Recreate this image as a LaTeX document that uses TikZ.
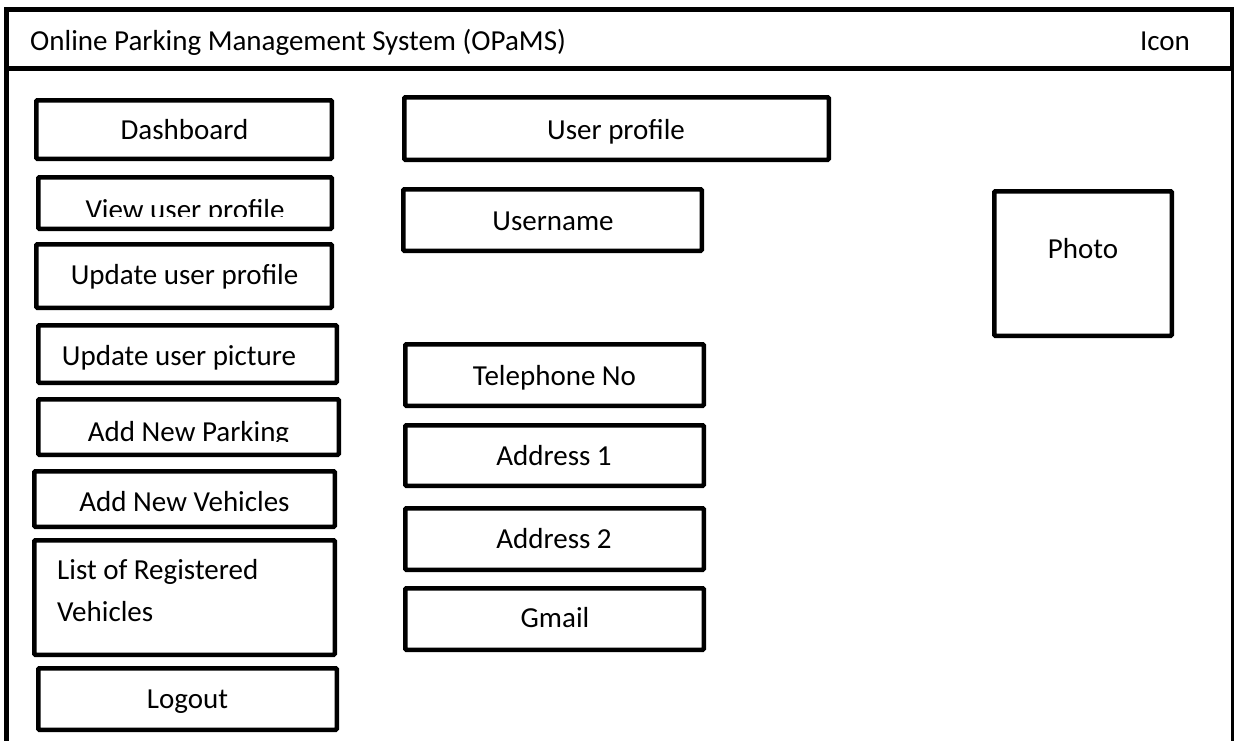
\documentclass[tikz,border=0pt]{standalone}
\usepackage{fontspec}
\setmainfont{Carlito}
\begin{document}
\begin{tikzpicture}[x=1pt,y=-1pt,
  frameline/.style={line width=4.5pt,line cap=rect},
  box/.style={draw,line width=4.5pt,rounded corners=1pt,rectangle,inner sep=0pt},
  lbl/.style={inner sep=0pt,anchor=base,font=\fontsize{29}{42}\selectfont},
]
\useasboundingbox (0,0) rectangle (1234,740);
\newcommand{\bx}[5]{\node[box,minimum width={#4-#2-4.5},minimum height={#5-#3-4.5}] (#1) at ({(#2+#4)/2},{(#3+#5)/2}) {};}
% outer frame
\coordinate (tl) at (6.3,9.7);
\coordinate (tr) at (1232,9.7);
\coordinate (bl) at (6.3,745);
\coordinate (br) at (1232,745);
\coordinate (hl) at (6.3,68.5);
\coordinate (hr) at (1232,68.5);
\draw[frameline] (bl) -- (tl) -- (tr);
\draw[line width=4pt] (tr) -- (hr);
\draw[line width=3pt] (hr) -- (br);
\draw[frameline] (hl) -- (hr);
\node[lbl,anchor=base west] (title) at (30,50) {Online Parking Management System (OPaMS)};
\node[lbl] (icon) at (1165,50) {Icon};
% boxes
\bx{dash}{34}{98}{334}{161}
\bx{view}{36}{175}{334}{231}
\bx{updprof}{34}{242}{334}{310}
\bx{updpic}{36}{323}{339}{385}
\bx{addpark}{36}{397}{341}{457}
\bx{addveh}{32}{469}{337}{529}
\bx{list}{32}{538}{337}{657}
\bx{logout}{36}{666}{339}{732}
\bx{userprof}{402}{95}{831}{162}
\bx{username}{401}{187}{704}{253}
\bx{tel}{403}{342}{706}{408}
\bx{addra}{403}{423}{706}{488}
\bx{addrb}{403}{506}{706}{572}
\bx{gmail}{403}{586}{706}{652}
\bx{photo}{992}{189}{1174}{338}
% labels
\node[lbl] (dasht) at (184.5,139) {Dashboard};
\begin{scope}
\clip (40,180) rectangle (330,216.7);
\node[lbl] (viewt) at (185,219.4) {View user profile};
\end{scope}
\node[lbl] (updproft) at (184.5,284) {Update user profile};
\node[lbl] (updpict) at (179,365) {Update user picture};
\begin{scope}
\clip (40,402) rectangle (336,441);
\node[lbl] (addparkt) at (188.5,441.5) {Add New Parking};
\end{scope}
\node[lbl] (addveht) at (184.5,511.7) {Add New Vehicles};
\node[lbl,anchor=base west] (listta) at (57,579) {List of Registered};
\node[lbl,anchor=base west] (listtb) at (57,621) {Vehicles};
\node[lbl] (logoutt) at (187.5,708) {Logout};
\node[lbl] (userproft) at (616,139) {User profile};
\node[lbl] (usernamet) at (553,230) {Username};
\node[lbl] (telt) at (554.5,385) {Telephone No};
\node[lbl] (addrat) at (554,465) {Address 1};
\node[lbl] (addrbt) at (554,548) {Address 2};
\node[lbl] (gmailt) at (555,627) {Gmail};
\node[lbl] (photot) at (1083,258) {Photo};
\end{tikzpicture}
\end{document}
